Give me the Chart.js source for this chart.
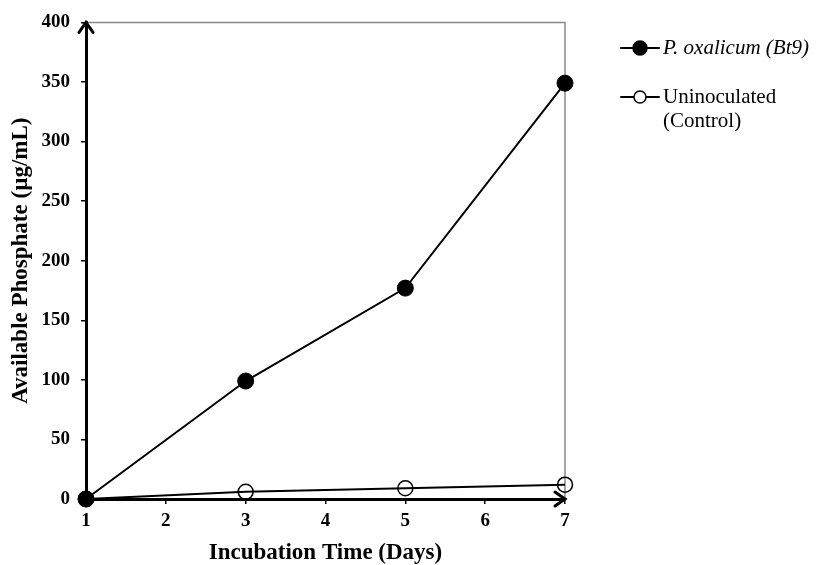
<html>
<head>
  <script src="https://cdn.jsdelivr.net/npm/chart.js@4.4.0/dist/chart.umd.min.js"></script>
  <style>
    body { margin:0; background:#fff; }
  </style>
</head>
<body>
<div style="width:820px;height:565px;position:relative;">
  <canvas id="phosphate-graph" width="820" height="565"></canvas>
</div>

<script>
var days = [1, 3, 5, 7];
var oxalicum = [0, 99, 177, 349];
var control = [0, 6, 9, 12];
var xTicks = [1, 2, 3, 4, 5, 6, 7];
var yTicks = [0, 50, 100, 150, 200, 250, 300, 350, 400];

var serif = '"Liberation Serif", "Times New Roman", serif';

function pts(ys){
  return days.map(function(d, i){ return {x: d, y: ys[i]}; });
}

// axis arrows, frame, legend
var extras = {
  id: 'extras',
  beforeDatasetsDraw: function(chart){
    var ctx = chart.ctx, a = chart.chartArea;
    ctx.save();
    ctx.strokeStyle = '#888';
    ctx.lineWidth = 1.5;
    ctx.beginPath();
    ctx.moveTo(a.left, a.top);
    ctx.lineTo(a.right, a.top);
    ctx.lineTo(a.right, a.bottom);
    ctx.stroke();
    ctx.restore();
  },
  afterDraw: function(chart){
    var ctx = chart.ctx, a = chart.chartArea;
    ctx.save();
    ctx.strokeStyle = '#000';
    ctx.lineWidth = 3;
    ctx.lineCap = 'round';
    ctx.beginPath();
    ctx.moveTo(a.left - 7, a.top + 10);
    ctx.lineTo(a.left, a.top);
    ctx.lineTo(a.left + 7, a.top + 10);
    ctx.moveTo(a.right - 10, a.bottom - 7);
    ctx.lineTo(a.right, a.bottom);
    ctx.lineTo(a.right - 10, a.bottom + 7);
    ctx.stroke();

    // legend
    var items = [
      {lines: ['P. oxalicum (Bt9)'], italic: true, filled: true, y: 48},
      {lines: ['Uninoculated', '(Control)'], italic: false, filled: false, y: 97}
    ];
    items.forEach(function(it){
      ctx.lineWidth = 2;
      ctx.strokeStyle = '#000';
      ctx.beginPath();
      ctx.moveTo(621, it.y);
      ctx.lineTo(659, it.y);
      ctx.stroke();
      ctx.beginPath();
      ctx.arc(640, it.y, it.filled ? 7 : 6, 0, Math.PI * 2);
      ctx.fillStyle = it.filled ? '#000' : '#fff';
      ctx.fill();
      ctx.lineWidth = 1.5;
      ctx.stroke();
      ctx.fillStyle = '#000';
      ctx.font = (it.italic ? 'italic ' : '') + '21px ' + serif;
      ctx.textBaseline = 'middle';
      ctx.textAlign = 'left';
      it.lines.forEach(function(t, k){
        ctx.fillText(t, 663, it.y + k * 24);
      });
    });
    ctx.restore();
  }
};

new Chart(document.getElementById('phosphate-graph'), {
  type: 'scatter',
  data: {
    datasets: [
      {
        label: 'P. oxalicum (Bt9)',
        data: pts(oxalicum),
        showLine: true,
        borderColor: '#000',
        borderWidth: 2,
        pointRadius: 8,
        pointBackgroundColor: '#000',
        pointBorderColor: '#000',
        pointBorderWidth: 1,
        clip: false
      },
      {
        label: 'Uninoculated (Control)',
        data: pts(control),
        showLine: true,
        borderColor: '#000',
        borderWidth: 2,
        pointRadius: 7.5,
        pointBackgroundColor: 'rgba(255,255,255,0)',
        pointBorderColor: '#000',
        pointBorderWidth: 1.5,
        clip: false
      }
    ]
  },
  options: {
    responsive: false,
    animation: false,
    layout: { padding: { top: 21, right: 255, left: 0, bottom: 0 } },
    plugins: { legend: { display: false }, tooltip: { enabled: false } },
    scales: {
      x: {
        type: 'linear',
        min: 1, max: 7,
        afterBuildTicks: function(s){ s.ticks = xTicks.map(function(v){ return {value: v}; }); },
        afterFit: function(s){ s.height = 66; },
        border: { display: true, color: '#000', width: 3 },
        grid: { drawOnChartArea: false, drawTicks: true, tickLength: 5, color: '#000', lineWidth: 1.5 },
        ticks: { color: '#000', font: { family: serif, size: 19, weight: 'bold' }, padding: 6, maxRotation: 0 },
        title: { display: true, text: 'Incubation Time (Days)', color: '#000',
                 font: { family: serif, size: 23, weight: 'bold', lineHeight: 1.05 }, padding: { top: 0, bottom: 0 } }
      },
      y: {
        min: 0, max: 400,
        afterBuildTicks: function(s){ s.ticks = yTicks.map(function(v){ return {value: v}; }); },
        afterFit: function(s){ s.width = 86; },
        border: { display: true, color: '#000', width: 3 },
        grid: { drawOnChartArea: false, drawTicks: true, tickLength: 5, color: '#000', lineWidth: 1.5 },
        ticks: { color: '#000', font: { family: serif, size: 19, weight: 'bold' }, padding: 11 },
        title: { display: true, text: 'Available Phosphate (µg/mL)', color: '#000',
                 font: { family: serif, size: 23, weight: 'bold', lineHeight: 1 }, padding: { top: 10, bottom: 0 } }
      }
    }
  },
  plugins: [extras]
});
</script>
</body>
</html>
